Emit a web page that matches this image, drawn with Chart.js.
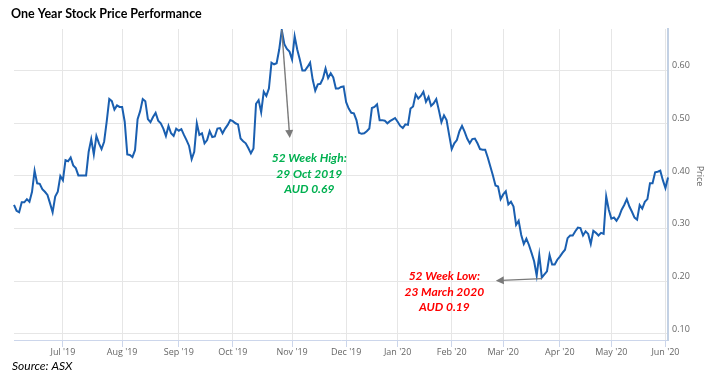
<!DOCTYPE html>
<html>
<head>
<meta charset="utf-8">
<script src="https://cdn.jsdelivr.net/npm/chart.js@4.4.1/dist/chart.umd.min.js"></script>
<style>
  html, body { margin: 0; padding: 0; background: #fff; }
  #wrap { width: 712px; height: 380px; position: relative; }
</style>
</head>
<body>
<div id="wrap"><canvas id="priceChart"></canvas></div>
<script>
// ---- Data ----
const chartTitle = "One Year Stock Price Performance";
const sourceNote = "Source: ASX";
const axisTitle = "Price";
const firstDay = "2019-06-03";
const lastDay = "2020-06-02";
const marketHolidays = ["2019-06-10", "2019-12-25", "2019-12-26", "2020-01-01", "2020-01-27", "2020-04-10", "2020-04-13"];
const monthLabels = ["Jul '19", "Aug '19", "Sep '19", "Oct '19", "Nov '19", "Dec '19", "Jan '20", "Feb '20", "Mar '20", "Apr '20", "May '20", "Jun '20"];
const priceTicks = [0.1, 0.2, 0.3, 0.4, 0.5, 0.6];
const highNote = ["52 Week High:", "29 Oct 2019", "AUD 0.69"];
const lowNote = ["52 Week Low:", "23 March 2020", "AUD 0.19"];

// closing price, one per trading day
const prices = [
  0.345, 0.334, 0.331, 0.350, 0.350, 0.356, 0.351, 0.370, 0.410, 0.386,
  0.385, 0.375, 0.370, 0.364, 0.348, 0.331, 0.361, 0.370, 0.400, 0.392,
  0.430, 0.428, 0.435, 0.420, 0.415, 0.401, 0.401, 0.401, 0.401, 0.446,
  0.470, 0.441, 0.476, 0.462, 0.451, 0.465, 0.503, 0.546, 0.542, 0.526,
  0.534, 0.531, 0.531, 0.503, 0.441, 0.440, 0.436, 0.449, 0.508, 0.523,
  0.546, 0.542, 0.508, 0.502, 0.512, 0.520, 0.505, 0.500, 0.490, 0.476,
  0.495, 0.481, 0.476, 0.490, 0.486, 0.489, 0.478, 0.468, 0.457, 0.432,
  0.446, 0.500, 0.478, 0.481, 0.462, 0.468, 0.485, 0.474, 0.475, 0.490,
  0.491, 0.481, 0.490, 0.497, 0.506, 0.504, 0.500, 0.498, 0.471, 0.466,
  0.462, 0.453, 0.443, 0.452, 0.537, 0.544, 0.521, 0.560, 0.552, 0.566,
  0.615, 0.612, 0.614, 0.640, 0.677, 0.650, 0.641, 0.636, 0.621, 0.665,
  0.640, 0.621, 0.600, 0.600, 0.607, 0.615, 0.583, 0.562, 0.574, 0.575,
  0.585, 0.604, 0.586, 0.595, 0.587, 0.566, 0.566, 0.569, 0.570, 0.540,
  0.528, 0.520, 0.519, 0.506, 0.482, 0.480, 0.481, 0.485, 0.490, 0.529,
  0.531, 0.536, 0.506, 0.506, 0.505, 0.500, 0.504, 0.507, 0.510, 0.503,
  0.495, 0.491, 0.498, 0.497, 0.528, 0.532, 0.555, 0.547, 0.552, 0.560,
  0.541, 0.550, 0.533, 0.538, 0.546, 0.525, 0.502, 0.515, 0.506, 0.478,
  0.451, 0.462, 0.468, 0.485, 0.495, 0.484, 0.471, 0.462, 0.470, 0.471,
  0.462, 0.451, 0.450, 0.450, 0.435, 0.418, 0.401, 0.382, 0.380, 0.356,
  0.365, 0.371, 0.346, 0.351, 0.342, 0.307, 0.315, 0.288, 0.271, 0.281,
  0.269, 0.254, 0.238, 0.211, 0.250, 0.207, 0.213, 0.219, 0.250, 0.232,
  0.232, 0.241, 0.247, 0.254, 0.260, 0.282, 0.287, 0.287, 0.295, 0.302,
  0.301, 0.287, 0.295, 0.290, 0.271, 0.296, 0.292, 0.287, 0.292, 0.290,
  0.361, 0.336, 0.319, 0.321, 0.315, 0.323, 0.336, 0.345, 0.356, 0.342,
  0.332, 0.321, 0.317, 0.345, 0.338, 0.351, 0.356, 0.386, 0.386, 0.407,
  0.408, 0.410, 0.392, 0.377, 0.397
];

// ---- trading calendar (weekdays minus market holidays) ----
const tradingDays = [];
for (let d = new Date(firstDay + "T00:00:00Z"); d <= new Date(lastDay + "T00:00:00Z"); d.setUTCDate(d.getUTCDate() + 1)) {
  const iso = d.toISOString().slice(0, 10);
  const wd = d.getUTCDay();
  if (wd !== 0 && wd !== 6 && !marketHolidays.includes(iso)) tradingDays.push(iso);
}
// first trading day of each month after the first month
const monthStarts = [];
tradingDays.forEach((day, i) => {
  if (i > 0 && day.slice(0, 7) !== tradingDays[i - 1].slice(0, 7)) monthStarts.push(i);
});

// ---- helpers for notes ----
function drawArrow(ctx, x1, y1, x2, y2) {
  const ang = Math.atan2(y2 - y1, x2 - x1);
  ctx.strokeStyle = "#7a7a7a";
  ctx.fillStyle = "#7a7a7a";
  ctx.lineWidth = 1.4;
  ctx.beginPath();
  ctx.moveTo(x1, y1);
  ctx.lineTo(x2 - 6 * Math.cos(ang), y2 - 6 * Math.sin(ang));
  ctx.stroke();
  ctx.beginPath();
  ctx.moveTo(x2, y2);
  ctx.lineTo(x2 - 8 * Math.cos(ang) + 4 * Math.sin(ang), y2 - 8 * Math.sin(ang) - 4 * Math.cos(ang));
  ctx.lineTo(x2 - 8 * Math.cos(ang) - 4 * Math.sin(ang), y2 - 8 * Math.sin(ang) + 4 * Math.cos(ang));
  ctx.closePath();
  ctx.fill();
}
function drawNote(ctx, lines, cx, cy, color) {
  ctx.fillStyle = color;
  ctx.font = "italic bold 12px Lato";
  ctx.textAlign = "center";
  ctx.textBaseline = "middle";
  lines.forEach((t, k) => ctx.fillText(t, cx, cy + k * 15.7));
}

const notesPlugin = {
  id: "notes",
  afterDraw(chart) {
    const { ctx, scales: { x, y } } = chart;
    ctx.save();
    ctx.fillStyle = "#000";
    ctx.textAlign = "left";
    ctx.textBaseline = "alphabetic";
    ctx.font = "bold 12.5px Lato";
    ctx.fillText(chartTitle, 11, 17.5);
    ctx.font = "italic 12px Lato";
    ctx.fillText(sourceNote, 12, 370);

    ctx.save();
    ctx.translate(699.5, 176);
    ctx.rotate(Math.PI / 2);
    ctx.textAlign = "center";
    ctx.textBaseline = "middle";
    ctx.fillStyle = "#666666";
    ctx.font = "9px 'Open Sans'";
    ctx.fillText(axisTitle, 0, 0);
    ctx.restore();

    const hi = prices.indexOf(Math.max(...prices));
    const lo = prices.indexOf(Math.min(...prices));
    const hx = x.getPixelForValue(hi), hy = y.getPixelForValue(prices[hi]);
    const lx = x.getPixelForValue(lo), ly = y.getPixelForValue(prices[lo]);
    drawArrow(ctx, hx, hy, hx + 8, hy + 108);
    drawNote(ctx, highNote, hx + 27.5, hy + 128, "#00b050");
    drawArrow(ctx, lx, ly + 1, lx - 46, ly + 3);
    drawNote(ctx, lowNote, lx - 97.5, ly - 1.5, "#ff0000");
    ctx.restore();
  }
};

// ---- Chart ----
const ctxPrice = document.getElementById("priceChart").getContext("2d");
new Chart(ctxPrice, {
  type: "line",
  data: {
    labels: tradingDays,
    datasets: [{
      data: prices,
      borderColor: "#1a5fb0",
      borderWidth: 2,
      pointRadius: 0,
      tension: 0,
      fill: false
    }]
  },
  options: {
    responsive: true,
    maintainAspectRatio: false,
    animation: false,
    layout: { padding: { left: 14, top: 29, right: 0, bottom: 0 } },
    plugins: {
      legend: { display: false },
      title: { display: false },
      tooltip: { enabled: false }
    },
    scales: {
      x: {
        type: "category",
        offset: false,
        afterBuildTicks: (scale) => {
          scale.ticks = monthStarts.map(i => ({ value: i }));
        },
        afterFit: (scale) => { scale.height = 40; },
        grid: { color: "#e6e6e6", tickColor: "#ccd6eb", tickLength: 7 },
        border: { color: "#ccd6eb", width: 1 },
        ticks: {
          autoSkip: false,
          maxRotation: 0,
          padding: 0,
          color: "#666666",
          font: { family: "'Open Sans'", size: 9 },
          callback: (value) => monthLabels[monthStarts.indexOf(value)]
        }
      },
      y: {
        position: "right",
        min: 0.0886,
        max: 0.679,
        afterBuildTicks: (scale) => {
          scale.ticks = priceTicks.map(v => ({ value: v }));
        },
        afterFit: (scale) => { scale.width = 44; },
        grid: { color: "#e6e6e6", drawTicks: false },
        border: { color: "#c3d1e4", width: 2 },
        ticks: {
          padding: 4,
          labelOffset: -5,
          color: "#666666",
          font: { family: "'Open Sans'", size: 9 },
          callback: (v) => v.toFixed(2)
        }
      }
    }
  },
  plugins: [notesPlugin]
});
</script>
</body>
</html>
